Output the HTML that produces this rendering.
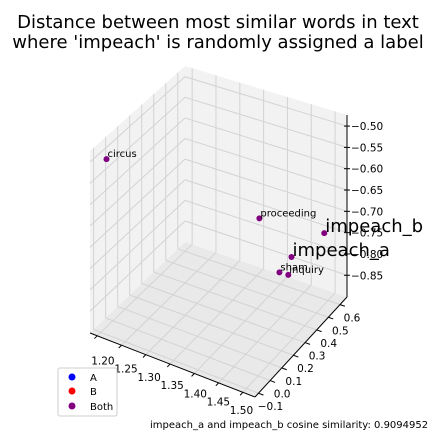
<!DOCTYPE html>
<html><head><meta charset="utf-8"><style>
body{margin:0;background:#fff;}
svg{display:block;font-family:"DejaVu Sans","Liberation Sans",sans-serif;}
</style></head><body>
<svg id="chart" width="432" height="432" viewBox="0 0 432 432" xmlns="http://www.w3.org/2000/svg">
<text x="218" y="28" font-size="18" text-anchor="middle">Distance between most similar words in text</text>
<text x="218" y="48" font-size="18" text-anchor="middle">where 'impeach' is randomly assigned a label</text>
<g id="plot"></g>
<g>
<rect x="58" y="368" width="59" height="48" rx="2" fill="#fff" stroke="#ccc"/>
<circle cx="72" cy="377" r="3.5" fill="blue"/>
<text x="90" y="381" font-size="10">A</text>
<circle cx="72" cy="391" r="3.5" fill="red"/>
<text x="90" y="395" font-size="10">B</text>
<circle cx="72" cy="406" r="3.5" fill="purple"/>
<text x="90" y="410" font-size="10">Both</text>
</g>
<text x="150" y="428" font-size="10">impeach_a and impeach_b cosine similarity: 0.9094952</text>
</svg>
<script>
const words = ["circus","proceeding","impeach_b","impeach_a","sham","inquiry"];
const xVals = [1.219,1.355,1.491,1.457,1.457,1.474];
const yVals = [-0.13,0.604,0.604,0.463,0.36,0.366];
const zVals = [-0.478,-0.763,-0.747,-0.775,-0.781,-0.782];
const bigLabel = [false,false,true,true,false,false];
const xTicks = [1.20,1.25,1.30,1.35,1.40,1.45,1.50];
const yTicks = [-0.1,0.0,0.1,0.2,0.3,0.4,0.5,0.6];
const zTicks = [-0.50,-0.55,-0.60,-0.65,-0.70,-0.75,-0.80,-0.85];
const X0=1.185,X1=1.525,Y0=-0.13,Y1=0.66,Z0=-0.901,Z1=-0.474;
const NS="http://www.w3.org/2000/svg";
const g=document.getElementById('plot');
function P(a,b,c){const k=b*(1-a);return [90+165*a+92*b+3*k, 333+64*a-100*b-182*c+k*(9+6*c)];}
const ax=x=>(x-X0)/(X1-X0), by=y=>(y-Y0)/(Y1-Y0), cz=z=>(z-Z0)/(Z1-Z0);
function el(t,at,name){const e=document.createElementNS(NS,t);for(const k in at)e.setAttribute(k,at[k]);


g.appendChild(e);return e;}
function poly(pts,fill,name){el('polygon',{points:pts.map(p=>p.join(',')).join(' '),fill:fill,stroke:'none'},name);}
poly([P(0,0,0),P(0,1,0),P(0,1,1),P(0,0,1)],'#f2f2f2','left-pane');
poly([P(0,1,0),P(1,1,0),P(1,1,1),P(0,1,1)],'#f2f2f2','back-pane');
poly([P(0,0,0),P(1,0,0),P(1,1,0),P(0,1,0)],'#e9e9e9','floor-pane');
function line(p,q,st,w,name){el('line',{x1:p[0],y1:p[1],x2:q[0],y2:q[1],stroke:st,'stroke-width':w},name);}
const gc='#d3d3d3';
xTicks.forEach(t=>{const a=ax(t);line(P(a,0,0),P(a,1,0),gc,1,'x-grid-floor');line(P(a,1,0),P(a,1,1),gc,1,'x-grid-back');
 line(P(a,0,0),P(a,-0.03,0),'#000',1,'x-tick');
 const p=P(a,0,0);el('text',{x:p[0]+6-8*a,y:p[1]+29-8*a,'font-size':10.5,'text-anchor':'middle'},'x-tick-label').textContent=t.toFixed(2);});
yTicks.forEach(t=>{const b=by(t);line(P(0,b,0),P(1,b,0),gc,1,'y-grid-floor');line(P(0,b,0),P(0,b,1),gc,1,'y-grid-left');
 line(P(1,b,0),P(1.03,b,0),'#000',1,'y-tick');
 const p=P(1,b,0);el('text',{x:p[0]+12,y:p[1]+17,'font-size':10.5,'text-anchor':'middle'},'y-tick-label').textContent=t.toFixed(1).replace('-','\u2212');});
zTicks.forEach(t=>{const c=cz(t);line(P(0,0,c),P(0,1,c),gc,1,'z-grid-left');line(P(0,1,c),P(1,1,c),gc,1,'z-grid-back');
 const p=P(1,1,c);line([p[0]-3,p[1]],[p[0]+3,p[1]],'#000',1,'z-tick');
 el('text',{x:p[0]+4,y:p[1]+4,'font-size':10.5},'z-tick-label').textContent=t.toFixed(2).replace('-','\u2212');});
line(P(0,0,0),P(1,0,0),'#000',1,'x-axis-line');
line(P(1,0,0),P(1,1,0),'#000',1,'y-axis-line');
line(P(1,1,0),P(1,1,1),'#000',1,'z-axis-line');
words.forEach((w,i)=>{const p=P(ax(xVals[i]),by(yVals[i]),cz(zVals[i]));
 el('circle',{cx:p[0],cy:p[1],r:3,fill:'purple'},'point-'+w);
 el('text',{x:p[0]+1,y:p[1]-(bigLabel[i]?1:2),'font-size':bigLabel[i]?18:10},'label-'+w).textContent=w;});
</script>
</body></html>
